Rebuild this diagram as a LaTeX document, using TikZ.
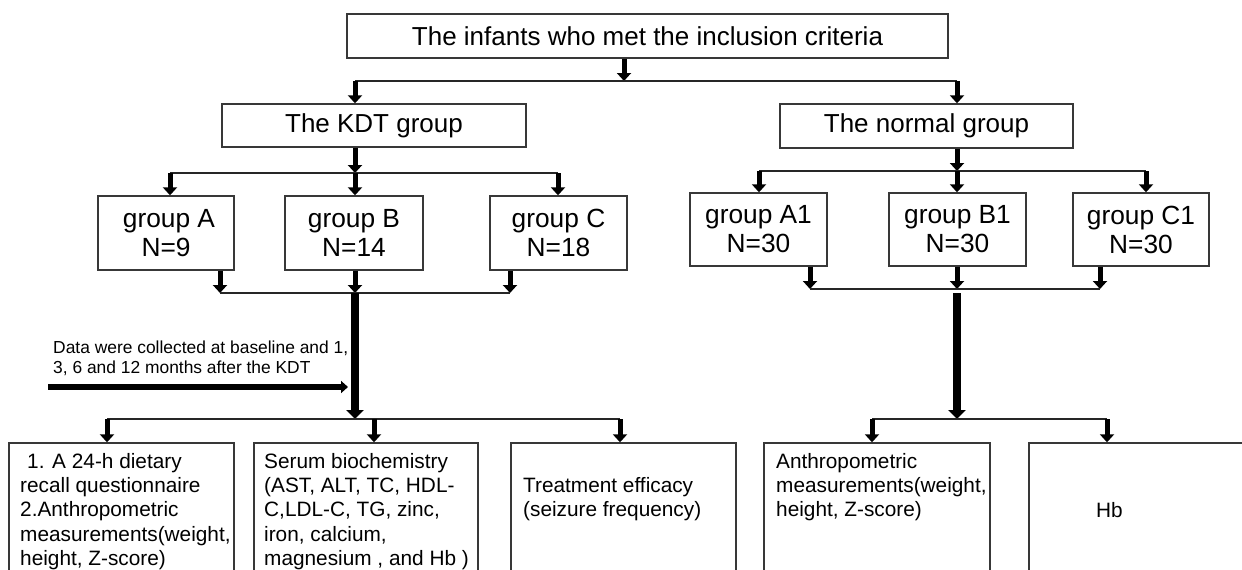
\documentclass[tikz,border=0pt]{standalone}
\usepackage{fontspec}
\setmainfont{Liberation Sans}
\usetikzlibrary{arrows.meta}
\begin{document}
\begin{tikzpicture}[x=1pt,y=-1pt,
  box/.style={draw=black!78, line width=1.4pt, inner sep=0pt, rectangle},
  titlebox/.style={box, font=\fontsize{26}{28}\selectfont},
  grpbox/.style={box, align=center, font=\fontsize{26.3}{29}\selectfont},
  txt/.style={inner sep=0pt, align=left, anchor=north west, font=\fontsize{20.8}{24.4}\selectfont},
  conn/.style={draw=black!85, line width=1.4pt},
  arr/.style={line width=5pt, -{Triangle[width=14pt,length=8pt]}},
  bigarr/.style={line width=8pt, -{Triangle[width=17pt,length=9pt]}},
  bigline/.style={line width=8pt}]
\useasboundingbox (0,0) rectangle (1242,570);
\clip (0,0) rectangle (1242,570);
% top level
\node[titlebox, minimum width=601pt, minimum height=44pt] (top) at (647.5,36) {The infants who met the inclusion criteria};
\node[titlebox, minimum width=304pt, minimum height=43pt] (kdt) at (374,125.5) {The KDT group};
\node[titlebox, minimum width=293pt, minimum height=44pt] (normal) at (926.5,126) {The normal group};
% groups
\node[grpbox, minimum width=136pt, minimum height=74pt] (gA) at (166,233) {\hspace*{6pt}group A\\N=9};
\node[grpbox, minimum width=138pt, minimum height=74pt] (gB) at (354,233) {group B\\N=14};
\node[grpbox, minimum width=137pt, minimum height=74pt] (gC) at (558.5,233) {group C\\N=18};
\node[grpbox, minimum width=137pt, minimum height=73pt] (gA1) at (758.5,229.5) {group A1\\N=30};
\node[grpbox, minimum width=137pt, minimum height=73pt] (gB1) at (957.5,229.5) {group B1\\N=30};
\node[grpbox, minimum width=136pt, minimum height=73pt] (gC1) at (1141,229.5) {group C1\\N=30};
% bottom boxes
\node[box, minimum width=225pt, minimum height=160pt] (b1) at (121.5,523) {};
\node[box, minimum width=224pt, minimum height=160pt] (b2) at (366,523) {};
\node[box, minimum width=225pt, minimum height=160pt] (b3) at (623.5,523) {};
\node[box, minimum width=226pt, minimum height=160pt] (b4) at (877,523) {};
\node[box, minimum width=240pt, minimum height=160pt] (b5) at (1149,523) {};
\node[txt] (t1) at (20,452.8) {\hspace*{7pt}1. A 24-h dietary\\recall questionnaire\\2.Anthropometric\\measurements(weight,\\height, Z-score)};
\node[txt] (t2) at (264,452.8) {Serum biochemistry\\(AST, ALT, TC, HDL-\\C,LDL-C, TG, zinc,\\iron, calcium,\\magnesium , and Hb )};
\node[txt] (t3) at (523,477.2) {Treatment efficacy\\(seizure frequency)};
\node[txt] (t4) at (776,452.8) {Anthropometric\\measurements(weight,\\height, Z-score)};
\node[txt, anchor=base west] (t5) at (1096,517) {Hb};
\node[inner sep=0pt, align=left, anchor=north west, font=\fontsize{17.4}{20}\selectfont] (data) at (53,340.3) {Data were collected at baseline and 1,\\3, 6 and 12 months after the KDT};
% junction coordinates
\coordinate (jT) at (624,81);
\coordinate (jL) at (355,81);
\coordinate (jR) at (957,81);
\coordinate (k0) at (355,173);
\coordinate (kA) at (170,173);
\coordinate (kC) at (558,173);
\coordinate (n0) at (957,171);
\coordinate (nA) at (759,171);
\coordinate (nC) at (1146,171);
\coordinate (mA) at (220,293);
\coordinate (m0) at (355,293);
\coordinate (mC) at (510,293);
\coordinate (pA) at (810,289);
\coordinate (p0) at (957,289);
\coordinate (pC) at (1100,289);
\coordinate (p1) at (957,293);
\coordinate (dA) at (107,419);
\coordinate (d0) at (355,419);
\coordinate (dB) at (374,419);
\coordinate (dC) at (620,419);
\coordinate (eA) at (872,419);
\coordinate (e0) at (957,419);
\coordinate (eB) at (1107,419);
\coordinate (ds) at (48,387);
\coordinate (de) at (348,387);
% level 1
\draw[arr] (top.south -| jT) -- (jT);
\draw[conn] (jL) -- (jR);
\draw[arr] (jL) -- (jL |- kdt.north);
\draw[arr] (jR) -- (jR |- normal.north);
% KDT branch
\draw[arr] (kdt.south -| k0) -- (k0);
\draw[conn] (kA) -- (kC);
\draw[arr] (kA) -- (kA |- gA.north);
\draw[arr] (k0) -- (k0 |- gB.north);
\draw[arr] (kC) -- (kC |- gC.north);
\draw[arr] (gA.south -| mA) -- (mA);
\draw[arr] (gB.south -| m0) -- (m0);
\draw[arr] (gC.south -| mC) -- (mC);
\draw[conn] (mA) -- (mC);
\draw[bigarr] (m0) -- (d0);
\draw[line width=6pt, -{Triangle[width=12pt,length=7pt]}] (ds) -- (de);
\draw[conn] (dA) -- (dC);
\draw[arr] (dA) -- (dA |- b1.north);
\draw[arr] (dB) -- (dB |- b2.north);
\draw[arr] (dC) -- (dC |- b3.north);
% normal branch
\draw[arr] (normal.south -| n0) -- (n0);
\draw[conn] (nA) -- (nC);
\draw[arr] (nA) -- (nA |- gA1.north);
\draw[arr] (n0) -- (n0 |- gB1.north);
\draw[arr] (nC) -- (nC |- gC1.north);
\draw[arr] (gA1.south -| pA) -- (pA);
\draw[arr] (gB1.south -| p0) -- (p0);
\draw[arr] (gC1.south -| pC) -- (pC);
\draw[conn] (pA) -- (pC);
\draw[bigarr] (p1) -- (e0);
\draw[conn] (eA) -- (eB);
\draw[arr] (eA) -- (eA |- b4.north);
\draw[arr] (eB) -- (eB |- b5.north);
\end{tikzpicture}
\end{document}
